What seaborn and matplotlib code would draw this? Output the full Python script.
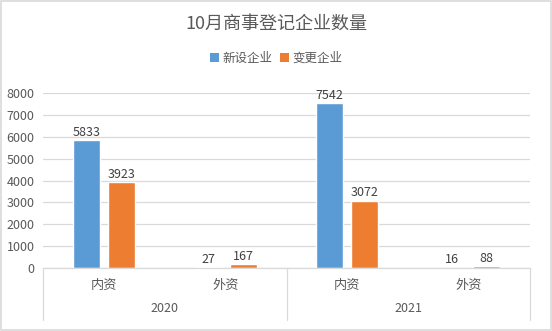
import matplotlib
matplotlib.use("Agg")
import matplotlib.pyplot as plt
import seaborn as sns
import pandas as pd
from matplotlib.lines import Line2D
from matplotlib.patches import Patch

years = ["2020", "2020", "2021", "2021"]
types = ["内资", "外资", "内资", "外资"]
new_firms = [5833, 27, 7542, 16]
changed_firms = [3923, 167, 3072, 88]
series_names = ["新设企业", "变更企业"]
colors = ["#5B9BD5", "#ED7D31"]
title = "10月商事登记企业数量"

sns.set_theme(style="white")
plt.rcParams["font.family"] = ["Noto Sans CJK SC", "DejaVu Sans"]

cats = [f"{y}-{t}" for y, t in zip(years, types)]
rows = []
for c, v in zip(cats, new_firms):
    rows.append({"cat": c, "series": series_names[0], "value": v})
for c, v in zip(cats, changed_firms):
    rows.append({"cat": c, "series": series_names[1], "value": v})
df = pd.DataFrame(rows)

fig = plt.figure(figsize=(5.52, 3.31), dpi=100)
ax = fig.add_axes([43/552, 1-268/331, (530-43)/552, (268-93)/331])

sns.barplot(data=df, x="cat", y="value", hue="series", order=cats,
            hue_order=series_names, palette=colors, width=0.575, gap=0.235,
            saturation=1, ax=ax, legend=False, errorbar=None)

for cont in ax.containers:
    ax.bar_label(cont, fmt="%d", fontsize=9, color="#404040", padding=1)

ax.set_ylim(0, 8000)
ax.set_yticks(range(0, 8001, 1000))
ax.set_xlim(-0.5, len(cats) - 0.5)
ax.yaxis.grid(True, color="#D9D9D9", linewidth=0.9)
ax.set_axisbelow(True)
for s in ["left", "right", "top"]:
    ax.spines[s].set_visible(False)
ax.spines["bottom"].set_color("#D9D9D9")
ax.spines["bottom"].set_linewidth(0.9)
ax.set_xlabel("")
ax.set_ylabel("")
ax.set_xticks(range(len(cats)))
ax.set_xticklabels(types)
ax.tick_params(axis="x", length=0, pad=8, labelsize=9.5, labelcolor="#595959")
ax.tick_params(axis="y", length=0, pad=6, labelsize=9, labelcolor="#595959")

# category box lines
box_h = (320 - 268) / (268 - 93)
for xpos in [0.0, 0.5, 1.0]:
    ax.add_line(Line2D([xpos, xpos], [0, -box_h], transform=ax.transAxes,
                       color="#D9D9D9", linewidth=0.9, clip_on=False))
# year labels
ypos_year = -(308 - 268) / (268 - 93)
for i, yr in enumerate(["2020", "2021"]):
    ax.text(0.25 + 0.5 * i, ypos_year, yr, transform=ax.transAxes,
            ha="center", va="center", fontsize=9, color="#595959")

fig.text(0.5, 1 - 24/331, title, ha="center", va="center",
         fontsize=13, color="#595959")
handles = [Patch(facecolor=c, edgecolor="none") for c in colors]
fig.legend(handles, series_names, loc="center", bbox_to_anchor=(0.5, 1 - 58/331),
           ncol=2, frameon=False, fontsize=9, handlelength=0.7, handleheight=0.7,
           handletextpad=0.3, columnspacing=0.6, labelcolor="#595959")

fig.patches.append(plt.Rectangle((0.001, 0.002), 0.997, 0.995, transform=fig.transFigure,
                                 fill=False, edgecolor="#D9D9D9", linewidth=1.2))
fig.savefig("out.png", dpi=100)
